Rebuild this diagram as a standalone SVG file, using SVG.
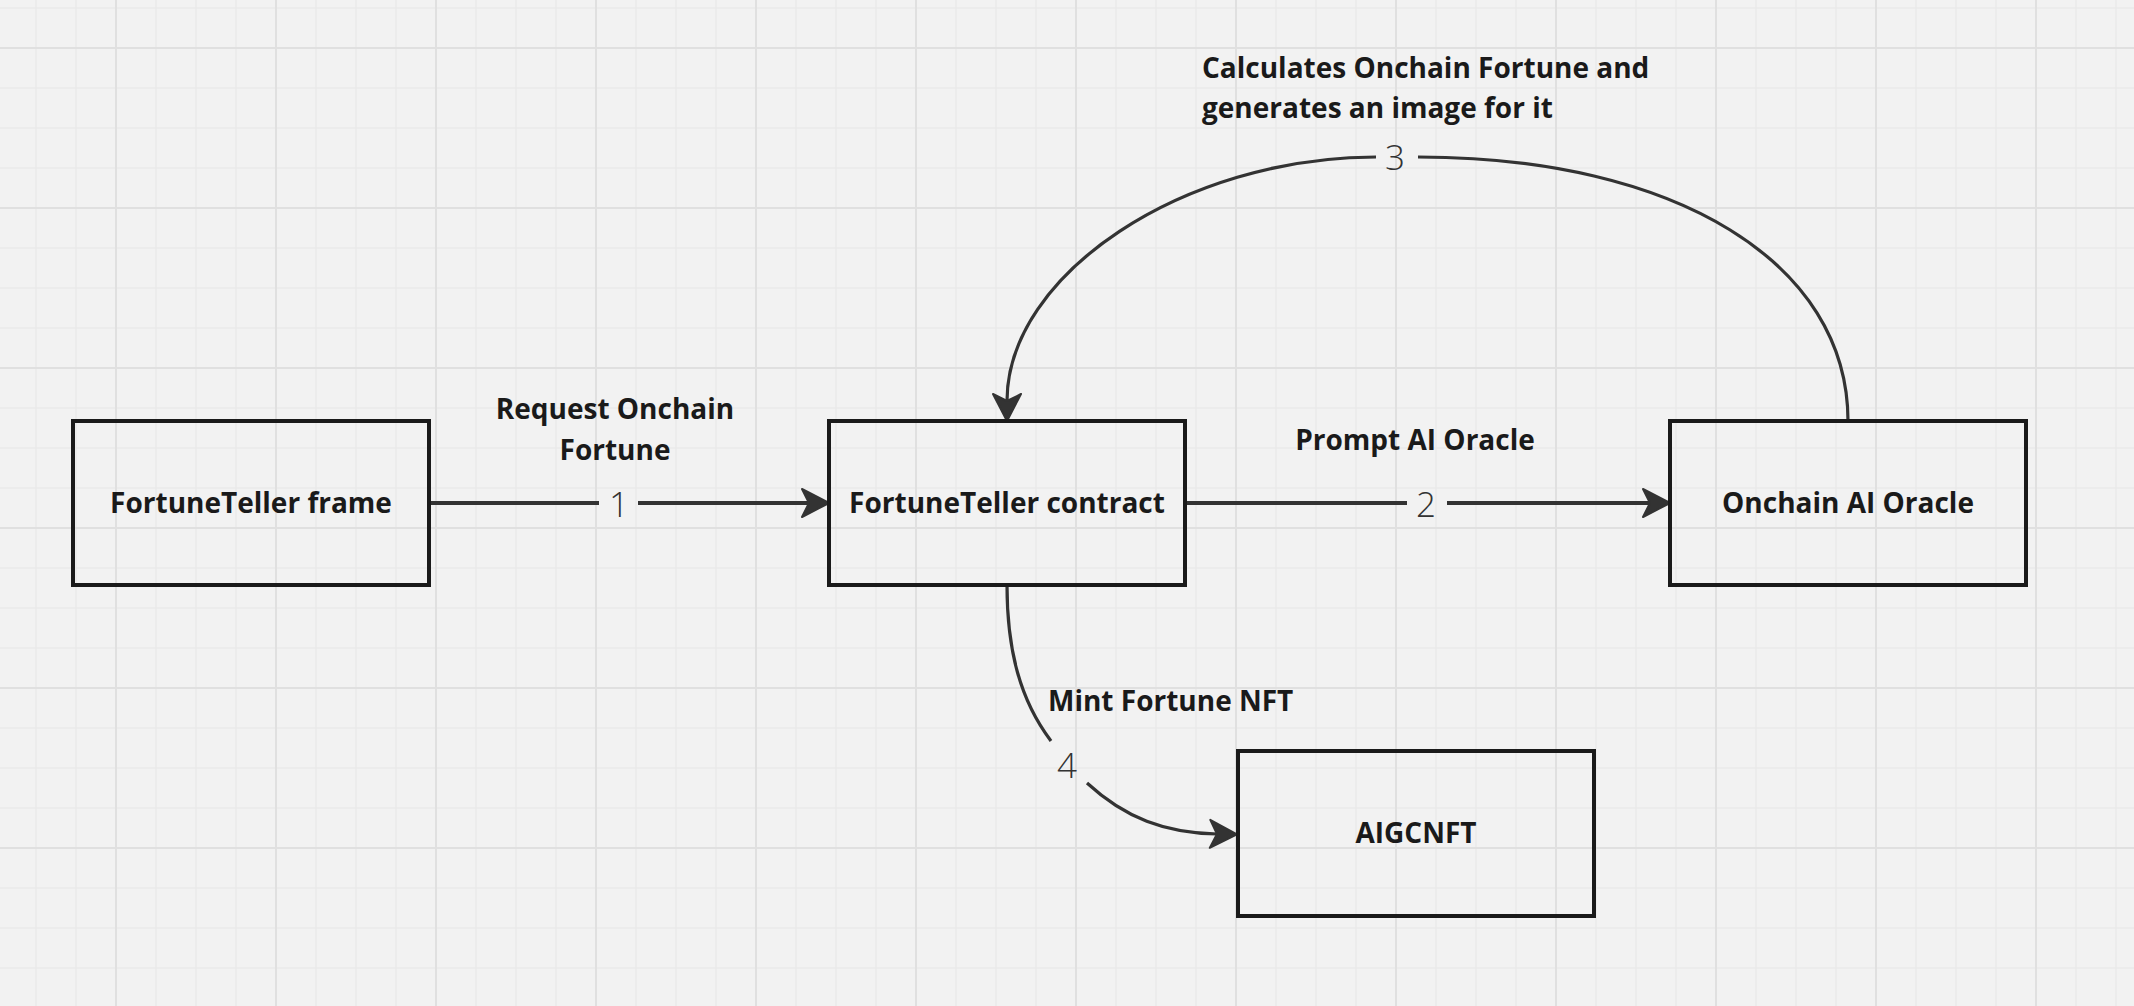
<svg xmlns="http://www.w3.org/2000/svg" width="2134" height="1006" viewBox="0 0 2134 1006">
<style>
.node rect{fill:none;stroke:#1a1a1a;stroke-width:4}
.node text{font-family:"Open Sans","Noto Sans","Liberation Sans",sans-serif;font-weight:700;font-size:28px;fill:#1a1a1a;text-anchor:middle}
.edge{fill:none;stroke:#333;stroke-width:4}
.curve{fill:none;stroke:#333;stroke-width:3.2}
.lbl{font-family:"Open Sans","Noto Sans","Liberation Sans",sans-serif;font-weight:700;font-size:28px;fill:#1a1a1a}
.num{font-family:"Open Sans","Noto Sans","Liberation Sans",sans-serif;font-weight:300;font-size:35px;fill:#333;text-anchor:middle}
</style>
<defs>
<pattern id="grid" patternUnits="userSpaceOnUse" x="115" y="47" width="160" height="160">
<rect x="0" y="0" width="160" height="160" fill="#f2f2f2"/>
<g stroke="#eaeaea" stroke-width="1.5">
<line x1="41" y1="0" x2="41" y2="160"/><line x1="81" y1="0" x2="81" y2="160"/><line x1="121" y1="0" x2="121" y2="160"/>
<line x1="0" y1="41" x2="160" y2="41"/><line x1="0" y1="81" x2="160" y2="81"/><line x1="0" y1="121" x2="160" y2="121"/>
</g>
<g stroke="#e0e0e0" stroke-width="2">
<line x1="1" y1="0" x2="1" y2="160"/><line x1="0" y1="1" x2="160" y2="1"/>
</g>
</pattern>
<marker id="arr" markerUnits="userSpaceOnUse" viewBox="-32 -18 36 36" markerWidth="36" markerHeight="36" refX="-20" refY="0" orient="auto">
<path d="M0,0 L-27,-14 L-20,0 L-27,14 Z" fill="#333" stroke="#333" stroke-width="2" stroke-linejoin="round"/>
</marker>
</defs>
<rect x="0" y="0" width="2134" height="1006" fill="url(#grid)"/>

<g id="connectors">
<path class="edge" d="M429,503 H599"/>
<path class="edge" d="M638,503 H809" marker-end="url(#arr)"/>
<path class="edge" d="M1185,503 H1407"/>
<path class="edge" d="M1447,503 H1650" marker-end="url(#arr)"/>
<path class="curve" d="M1848,421 C1848,263 1676,157 1418,157"/>
<path class="curve" d="M1376,157 C1184,157 1007,274 1007,401" marker-end="url(#arr)"/>
<path class="curve" d="M1007,585 C1007,650 1020,700 1051,741"/>
<path class="curve" d="M1087,783 C1125,818 1165,833 1217,834" marker-end="url(#arr)"/>
<text class="num" x="619" y="517">1</text>
<text class="num" x="1426" y="517">2</text>
<text class="num" x="1395" y="170">3</text>
<text class="num" x="1067" y="778">4</text>
<text class="lbl" x="615" y="419" text-anchor="middle">Request Onchain</text>
<text class="lbl" x="615" y="460" text-anchor="middle">Fortune</text>
<text class="lbl" x="1415" y="450" text-anchor="middle">Prompt AI Oracle</text>
<text class="lbl" x="1202" y="78">Calculates Onchain Fortune and</text>
<text class="lbl" x="1202" y="118">generates an image for it</text>
<text class="lbl" x="1048" y="711">Mint Fortune NFT</text>
</g>

<g id="node-frame" class="node">
<rect x="73" y="421" width="356" height="164"/>
<text x="251" y="513">FortuneTeller frame</text>
</g>
<g id="node-contract" class="node">
<rect x="829" y="421" width="356" height="164"/>
<text x="1007" y="513">FortuneTeller contract</text>
</g>
<g id="node-oracle" class="node">
<rect x="1670" y="421" width="356" height="164"/>
<text x="1848" y="513">Onchain AI Oracle</text>
</g>
<g id="node-nft" class="node">
<rect x="1238" y="751" width="356" height="165"/>
<text x="1416" y="843">AIGCNFT</text>
</g>
</svg>
